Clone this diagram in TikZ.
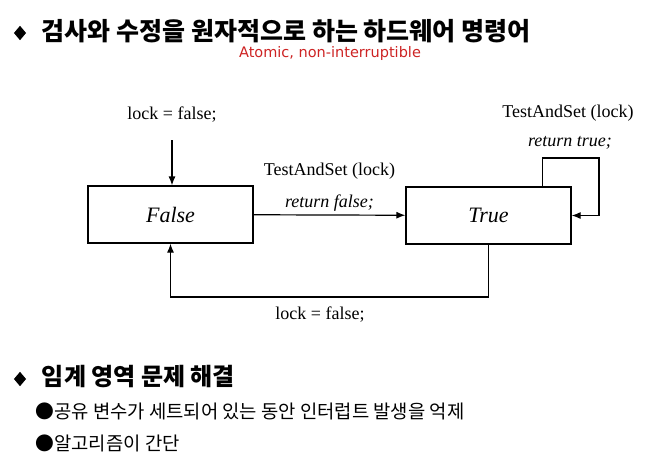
\documentclass[tikz,border=0pt]{standalone}
\usepackage{fontspec}
\setmainfont{Liberation Serif}
\newfontfamily\kor{Noto Sans CJK KR}
\newfontfamily\hand{DejaVu Sans}
\usetikzlibrary{positioning, arrows.meta, shapes.geometric}
\definecolor{atomred}{RGB}{205,35,35}
\tikzstyle{block}=[draw,fill=white,rectangle,line width=1.2pt,minimum width=165pt,minimum height=57pt,font=\fontsize{22}{22}\selectfont\itshape]
\tikzstyle{every node}=[font=\fontsize{18}{18}\selectfont]
\tikzstyle{bulletmark}=[draw,fill,diamond,inner sep=0pt,minimum width=11pt,minimum height=13pt]
\tikzstyle{ret}=[font=\fontsize{18}{18}\selectfont\itshape]

\begin{document}
\begin{tikzpicture}[x=1pt, y=-1pt, >={Latex[length=9pt,width=7pt]}, line width=1.2pt]
            \useasboundingbox (0,0) rectangle (649,459);
            % heading
            \node[bulletmark] (d1) at (20,33) {};
            \node[anchor=west, font=\kor\bfseries\fontsize{25}{25}\selectfont] (head) at (38,31) {검사와 수정을 원자적으로 하는 하드웨어 명령어};
            \node[text=atomred, font=\hand\fontsize{14.5}{14.5}\selectfont] (atomic) at (330,53) {Atomic, non-interruptible};
            % states
            \node[block] (false) at (170.5,214.5) {False};
            \node[block] (true) at (488.5,215.5) {True};
            \node (init) at (172,115) {lock = false;};
            \coordinate (initend) at (172,140);
            \draw[->] (initend) -- (initend |- false.north);
            \draw[->] (false) -- node[above, ret] (rf) {return false;} (true);
            \node[above=7pt of rf] (tas) {TestAndSet (lock)};
            \coordinate (loop) at (599,158);
            \draw[->] ([xshift=-29pt]true.north east) |- (loop) |- (true.east);
            \node[ret] (rt) at (570,143) {return true;};
            \node (tas2) at (568,113) {TestAndSet (lock)};
            \coordinate (back) at (320,297);
            \draw[->] (true.south) |- (back) -| (false.south);
            \node[below=6pt of back] (unlock) {lock = false;};
            % second heading
            \node[bulletmark] (d2) at (20,379) {};
            \node[anchor=west, font=\kor\bfseries\fontsize{24}{24}\selectfont] (head2) at (38,377) {임계 영역 문제 해결};
            \node[anchor=west, inner sep=0pt, font=\kor\fontsize{18.8}{18.8}\selectfont] (b1) at (35,411) {●공유 변수가 세트되어 있는 동안 인터럽트 발생을 억제};
            \node[anchor=west, inner sep=0pt, font=\kor\fontsize{18.8}{18.8}\selectfont] (b2) at (35,443) {●알고리즘이 간단};
        \end{tikzpicture}
\end{document}
